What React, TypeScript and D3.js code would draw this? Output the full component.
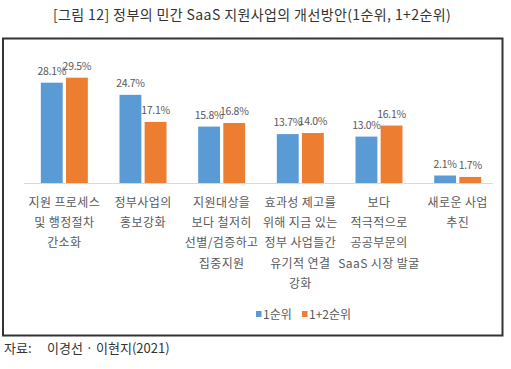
import React from "react";
import * as d3 from "d3";

const categories: string[][] = [
  ["지원 프로세스", "및 행정절차", "간소화"],
  ["정부사업의", "홍보강화"],
  ["지원대상을", "보다 철저히", "선별/검증하고", "집중지원"],
  ["효과성 제고를", "위해 지금 있는", "정부 사업들간", "유기적 연결", "강화"],
  ["보다", "적극적으로", "공공부문의", "SaaS 시장 발굴"],
  ["새로운 사업", "추진"],
];
const seriesNames = ["1순위", "1+2순위"];
const rank1 = [28.1, 24.7, 15.8, 13.7, 13.0, 2.1];
const rank12 = [29.5, 17.1, 16.8, 14.0, 16.1, 1.7];
const colors = ["#5B9BD5", "#ED7D31"];

const W = 511;
const H = 369;
const FONT = "'Noto Sans CJK KR', 'Noto Sans', sans-serif";

export default function App() {
  const idx = categories.map((_, i) => String(i));
  const x = d3.scaleBand<string>().domain(idx).range([25, 497]).padding(0);
  const inner = d3.scaleBand<string>().domain(["0", "1"]).range([-23.5, 23.5]).paddingInner(0.13);
  const baseY = 183;
  const y = d3.scaleLinear().domain([0, 30]).range([baseY, baseY - 107.1]);
  const series = [rank1, rank12];

  return (
    <svg width={W} height={H} style={{ position: "absolute", left: 0, top: 0, background: "#fff" }} fontFamily={FONT}>
      <rect x={0} y={0} width={W} height={H} fill="#fff" />
      <text x={252} y={20} textAnchor="middle" fontSize={14} letterSpacing={0.4} fill="#333">
        [그림 12] 정부의 민간 SaaS 지원사업의 개선방안(1순위, 1+2순위)
      </text>
      <rect x={3} y={38.5} width={499.5} height={297} fill="none" stroke="#333" strokeWidth={2} />
      <line x1={24} x2={493} y1={baseY + 0.5} y2={baseY + 0.5} stroke="#D9D9D9" strokeWidth={1} />
      {categories.map((lines, i) => {
        const cx = (x(String(i)) as number) + x.bandwidth() / 2;
        return (
          <g key={i}>
            {series.map((vals, s) => {
              const bx = cx + (inner(String(s)) as number);
              const bw = inner.bandwidth();
              const v = vals[i];
              return (
                <g key={s}>
                  <rect x={bx} y={y(v)} width={bw} height={baseY - y(v)} fill={colors[s]} />
                  <text x={bx + bw / 2} y={y(v) - 8} textAnchor="middle" fontSize={10.5} letterSpacing={-0.3} fill="#595959">
                    {v.toFixed(1)}%
                  </text>
                </g>
              );
            })}
            {lines.map((ln, k) => (
              <text key={k} x={cx} y={207 + k * 20.2} textAnchor="middle" fontSize={12} letterSpacing={0.4} fill="#595959">
                {ln}
              </text>
            ))}
          </g>
        );
      })}
      <g>
        {seriesNames.map((n, s) => {
          const lx = s === 0 ? 256 : 302;
          return (
            <g key={n}>
              <rect x={lx} y={311} width={5.5} height={6} fill={colors[s]} />
              <text x={lx + 7} y={319} fontSize={12} fill="#595959">{n}</text>
            </g>
          );
        })}
      </g>
      <text x={4} y={353} fontSize={13} fill="#333">
        자료:
      </text>
      <text x={47} y={353} fontSize={13} fill="#333">
        이경선 · 이현지(2021)
      </text>
    </svg>
  );
}
